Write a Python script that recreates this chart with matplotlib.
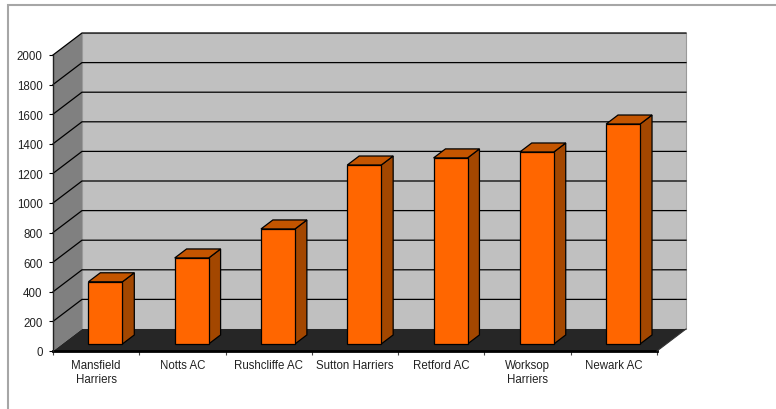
import matplotlib
matplotlib.use("Agg")
import matplotlib.pyplot as plt
from matplotlib.patches import Polygon, Rectangle

plt.rcParams['font.family'] = ['Liberation Sans', 'DejaVu Sans']

clubs = ["Mansfield\nHarriers", "Notts AC", "Rushcliffe AC", "Sutton Harriers",
         "Retford AC", "Worksop\nHarriers", "Newark AC"]
values = [420, 581, 777, 1209, 1257, 1297, 1486]
y_ticks = list(range(0, 2001, 200))

# depth of the fake 3d box, in axis units
depth_x = 29 / 86.3
depth_y = 22 / 0.148
bar_width = 0.394
bar_front = 0.32
bar_back = 0.73


def pt(x, y, d=0.0):
    return (x + d * depth_x, y + d * depth_y)


def face(ax, pts, color, edge="none", lw=0.0, z=1):
    ax.add_patch(Polygon(pts, closed=True, facecolor=color, edgecolor=edge,
                         linewidth=lw, clip_on=False, zorder=z, joinstyle="miter"))


fig = plt.figure(figsize=(7.76, 4.10), dpi=100)
# outer frame runs off the right and bottom of the image
fig.add_artist(Rectangle((8 / 776, -0.05), 2, 1.05 - 6 / 410, transform=fig.transFigure,
                         facecolor="white", edgecolor="#a6a6a6", linewidth=1.5, zorder=-1))

ax = fig.add_axes([53 / 776, (410 - 352) / 410, 604 / 776, 296 / 410])
ax.set_xlim(0, len(clubs))
ax.set_ylim(0, 2000)
ax.patch.set_visible(False)
for s in ax.spines.values():
    s.set_visible(False)

n = len(clubs)
# walls and floor
face(ax, [pt(0, 0, 1), pt(n, 0, 1), pt(n, 2000, 1), pt(0, 2000, 1)], "#c0c0c0", "#9a9a9a", 0.8, 1)
face(ax, [pt(0, 0), pt(0, 0, 1), pt(0, 2000, 1), pt(0, 2000)], "#808080", "none", 0, 1)
face(ax, [pt(0, 0), pt(n, 0), pt(n, 0, 1), pt(0, 0, 1)], "#262626", "none", 0, 2)

# gridlines go along the side wall then across the back
for v in y_ticks[1:]:
    a, b, c = pt(0, v), pt(0, v, 1), pt(n, v, 1)
    ax.plot([a[0], b[0], c[0]], [a[1], b[1], c[1]], color="black", lw=0.9,
            clip_on=False, zorder=1.5, solid_joinstyle="miter")

ax.plot([0, n], [0, 0], color="black", lw=2, clip_on=False, zorder=3)
ax.plot([0, 0], [0, 2000], color="#222222", lw=1, clip_on=False, zorder=3)
a, b = pt(n, 0), pt(n, 0, 1)
ax.plot([a[0], b[0]], [a[1], b[1]], color="#333333", lw=0.8, clip_on=False, zorder=3)

# bars
for i, val in enumerate(values):
    x0 = i + 0.5 - bar_width / 2
    x1 = i + 0.5 + bar_width / 2
    z = 10
    face(ax, [pt(x1, 0, bar_front), pt(x1, 0, bar_back), pt(x1, val, bar_back), pt(x1, val, bar_front)],
         "#a34700", "black", 0.9, z)
    face(ax, [pt(x0, val, bar_front), pt(x1, val, bar_front), pt(x1, val, bar_back), pt(x0, val, bar_back)],
         "#c45500", "black", 0.9, z)
    face(ax, [pt(x0, 0, bar_front), pt(x1, 0, bar_front), pt(x1, val, bar_front), pt(x0, val, bar_front)],
         "#ff6600", "black", 0.9, z + 1)

ax.set_yticks(y_ticks)
ax.set_xticks(range(n + 1))
ax.set_xticklabels([])
ax.set_xticks([i + 0.5 for i in range(n)], labels=clubs, minor=True)
ax.tick_params(axis="y", length=3, width=0.8, pad=4.5, labelsize=8.3, labelcolor="#222222")
ax.tick_params(axis="x", which="major", length=3, width=0.8, color="#444444")
ax.tick_params(axis="x", which="minor", length=0, pad=6, labelsize=8.3, labelcolor="#222222")
for lab in ax.get_xminorticklabels():
    lab.set_linespacing(1.15)

fig.savefig("out.png", dpi=100)
